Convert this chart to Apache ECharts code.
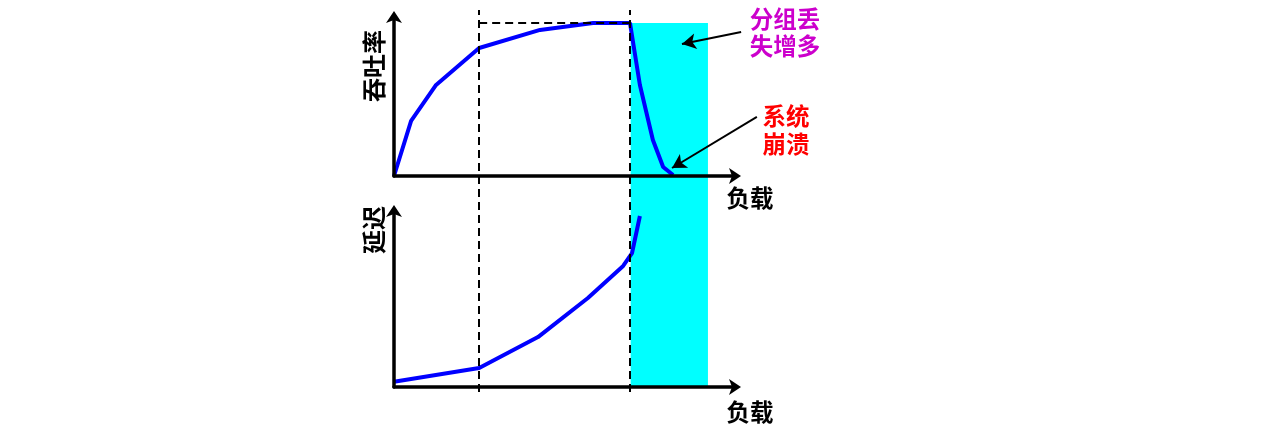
<!DOCTYPE html>
<html><head><meta charset="utf-8">
<script src="https://cdn.jsdelivr.net/npm/echarts@6/dist/echarts.min.js"></script>
<style>html,body{margin:0;padding:0;background:#fff}#c{width:1282px;height:430px}</style>
</head><body><div id="c"></div>
<script>
// Throughput vs load (top panel)
const throughputLoad  = [0, 5.0, 12.3, 24.9, 42.7, 58.2, 69.0, 71.9, 75.7, 78.7, 81.6];
const throughputValue = [0, 34.4, 56.9, 80.0, 91.3, 95.6, 95.6, 56.9, 22.5, 5.6, 0.6];
// Latency vs load (bottom panel)
const latencyLoad  = [0, 24.9, 42.1, 56.7, 67.0, 69.6, 71.9];
const latencyValue = [3, 10.7, 28.2, 50.3, 68.4, 75.7, 96.6];
// Knee / cliff loads (dashed lines) and overload zone
const kneeLoads = [24.9, 69.0];
const plateauValue = 95.6;
const overloadZone = [69.2, 91.8];
const overloadZoneSpan = [1.6, 96.6];
// Texts
const yNameTop = '吞吐率';
const yNameBottom = '延迟';
const xName = '负载';
const noteLoss = '分组丢\n失增多';
const noteCollapse = '系统\n崩溃';
// Annotation arrows (start, end) in top-panel coords
const arrowLoss = [[101.5, 90.0], [84.2, 82.5]];
const arrowCollapse = [[106.1, 36.9], [81.3, 5.0]];

const FONT = 'Noto Sans CJK SC';
const chart = echarts.init(document.getElementById('c'), null, {renderer: 'canvas'});

function pairs(xs, ys) { return xs.map((x, i) => [x, ys[i]]); }

function visAxis(extra) {
  return Object.assign({
    type: 'value', min: 0, max: 100, z: 10,
    axisLine: {show: true, onZero: false, symbol: ['none', 'arrow'], symbolSize: [12, 12],
      symbolOffset: [0, 5], lineStyle: {color: '#000', width: 3.5}},
    axisTick: {show: false}, axisLabel: {show: false}, splitLine: {show: false}
  }, extra || {});
}
function hidden(gi, max, min) { return {type: 'value', gridIndex: gi, show: false, min: min || 0, max: max}; }

const option = {
  backgroundColor: '#fff',
  animation: false,
  grid: [
    {left: 394, top: 16, width: 342, height: 160},
    {left: 394, top: 210, width: 342, height: 177},
    {left: 394, top: 10, width: 342, height: 382},
    {left: 394, top: 0, width: 444.6, height: 176}
  ],
  xAxis: [
    visAxis({gridIndex: 0}),
    visAxis({gridIndex: 1}),
    hidden(2, 100),
    hidden(3, 130)
  ],
  yAxis: [
    visAxis({gridIndex: 0}),
    visAxis({gridIndex: 1}),
    hidden(2, 100),
    hidden(3, 110)
  ],
  series: [
    {
      type: 'line', xAxisIndex: 2, yAxisIndex: 2, z: 1, silent: true,
      data: [[overloadZone[0], overloadZoneSpan[0]]], showSymbol: false,
      lineStyle: {opacity: 0},
      markArea: {silent: true, itemStyle: {color: '#00FFFF', opacity: 1},
        data: [[{coord: [overloadZone[0], overloadZoneSpan[0]]}, {coord: [overloadZone[1], overloadZoneSpan[1]]}]]},
      markLine: {silent: true, symbol: ['none', 'none'], label: {show: false},
        lineStyle: {color: '#000', width: 2, type: [8, 5]},
        data: kneeLoads.map(v => ({xAxis: v}))}
    },
    {
      type: 'line', xAxisIndex: 0, yAxisIndex: 0, z: 3, clip: false, silent: true,
      data: pairs(throughputLoad, throughputValue), showSymbol: false,
      lineStyle: {color: '#0000FF', width: 4}, itemStyle: {color: '#0000FF'},
      markLine: {silent: true, label: {show: false}, symbol: ['none', 'none'],
        lineStyle: {color: '#000', width: 2, type: [8, 5]},
        data: [[{coord: [kneeLoads[0], plateauValue]}, {coord: [kneeLoads[1], plateauValue]}]]}
    },
    {
      type: 'line', xAxisIndex: 1, yAxisIndex: 1, z: 3, clip: false, silent: true,
      data: pairs(latencyLoad, latencyValue), showSymbol: false,
      lineStyle: {color: '#0000FF', width: 4}, itemStyle: {color: '#0000FF'}
    },
    {
      type: 'line', xAxisIndex: 3, yAxisIndex: 3, z: 12, clip: false, silent: true,
      data: [arrowLoss[0]], showSymbol: false, lineStyle: {opacity: 0},
      markLine: {silent: true, label: {show: false}, symbol: ['none', 'arrow'], symbolSize: [12, 14],
        lineStyle: {color: '#000', width: 2, type: 'solid'},
        data: [
          [{coord: arrowLoss[0]}, {coord: arrowLoss[1]}],
          [{coord: arrowCollapse[0]}, {coord: arrowCollapse[1]}]
        ]}
    }
  ],
  graphic: [
    {type: 'text', x: 373.5, y: 66, rotation: Math.PI / 2, z: 20,
      style: {text: yNameTop, fontSize: 24, fontWeight: 'bold', fontFamily: FONT, fill: '#000', align: 'center', verticalAlign: 'middle'}},
    {type: 'text', x: 373.5, y: 230, rotation: Math.PI / 2, z: 20,
      style: {text: yNameBottom, fontSize: 24, fontWeight: 'bold', fontFamily: FONT, fill: '#000', align: 'center', verticalAlign: 'middle'}},
    {type: 'text', x: 750, y: 198, z: 20,
      style: {text: xName, fontSize: 23.5, fontWeight: 'bold', fontFamily: FONT, fill: '#000', align: 'center', verticalAlign: 'middle'}},
    {type: 'text', x: 750, y: 412, z: 20,
      style: {text: xName, fontSize: 23.5, fontWeight: 'bold', fontFamily: FONT, fill: '#000', align: 'center', verticalAlign: 'middle'}},
    {type: 'text', x: 785, y: 33, z: 20,
      style: {text: noteLoss, fontSize: 23.5, fontWeight: 'bold', fontFamily: FONT, fill: '#CC00CC', align: 'center', verticalAlign: 'middle', lineHeight: 27}},
    {type: 'text', x: 786, y: 130, z: 20,
      style: {text: noteCollapse, fontSize: 23.5, fontWeight: 'bold', fontFamily: FONT, fill: '#FF0000', align: 'center', verticalAlign: 'middle', lineHeight: 28}}
  ]
};
chart.setOption(option);
</script>
</body></html>
